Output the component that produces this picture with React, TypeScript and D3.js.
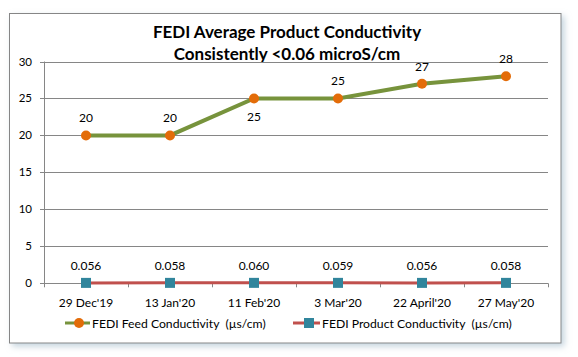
import React from "react";
import * as d3 from "d3";

const categories = ["29 Dec'19", "13 Jan'20", "11 Feb'20", "3 Mar'20", "22 April'20", "27 May'20"];
const feedValues = [20, 20, 25, 25, 27, 28];
const productValues = [0.056, 0.058, 0.06, 0.059, 0.056, 0.058];
const productLabels = ["0.056", "0.058", "0.060", "0.059", "0.056", "0.058"];
const feedLabelBelow = [false, false, true, false, false, false];
const yTicks = [0, 5, 10, 15, 20, 25, 30];
const titleLines = ["FEDI Average Product Conductivity", "Consistently <0.06 microS/cm"];
const legendNames = ["FEDI Feed Conductivity  (µs/cm)", "FEDI Product Conductivity  (µs/cm)"];

const FONT = "Lato, 'Open Sans', sans-serif";
const GRID = "#868686";
const FEED_LINE = "#77933C";
const FEED_MARK = "#E36C09";
const PROD_LINE = "#C0504D";
const PROD_MARK = "#31859C";

export default function App() {
  const W = 578, H = 357;
  const left = 44, right = 548, top = 61.5, bottom = 283.3;
  const x = d3.scaleBand<string>().domain(categories).range([left, right]);
  const y = d3.scaleLinear().domain([0, 30]).range([bottom, top]);
  const cx = (c: string) => (x(c) as number) + x.bandwidth() / 2;
  const line = d3.line<number>().x((_, i) => cx(categories[i])).y((v) => y(v));

  return (
    <svg width={W} height={H} style={{ position: "absolute", left: 0, top: 0, fontFamily: FONT }}>
      <defs>
        <filter id="sh" x="-5%" y="-5%" width="115%" height="115%">
          <feGaussianBlur in="SourceAlpha" stdDeviation="3" />
          <feOffset dx="3" dy="3" result="b" />
          <feFlood floodColor="#9fb8c8" floodOpacity="0.6" />
          <feComposite in2="b" operator="in" />
          <feMerge>
            <feMergeNode />
            <feMergeNode in="SourceGraphic" />
          </feMerge>
        </filter>
      </defs>
      <rect x={0} y={0} width={W} height={H} fill="#fff" />
      <rect x={9.5} y={13.5} width={551.5} height={329.5} fill="#fff" stroke={GRID} strokeWidth={1} filter="url(#sh)" />
      {titleLines.map((t, i) => (
        <text key={t} x={287} y={38 + i * 22} textAnchor="middle" fontSize={17} fontWeight="bold" fill="#000">
          {t}
        </text>
      ))}
      {yTicks.map((t) => (
        <g key={t}>
          <line x1={left - 4} x2={right} y1={Math.round(y(t)) + 0.5} y2={Math.round(y(t)) + 0.5} stroke={GRID} />
          <text x={32} y={y(t) + 4} textAnchor="end" fontSize={11.5} fill="#000">
            {t}
          </text>
        </g>
      ))}
      <line x1={left + 0.5} x2={left + 0.5} y1={top} y2={bottom + 4} stroke={GRID} />
      {categories.map((c, i) => (
        <g key={c}>
          <line x1={(x(c) as number) + x.bandwidth() + 0.5} x2={(x(c) as number) + x.bandwidth() + 0.5} y1={bottom} y2={bottom + 4} stroke={GRID} />
          <text x={cx(c)} y={307} textAnchor="middle" fontSize={12} fill="#000">
            {c}
          </text>
        </g>
      ))}
      <path d={line(productValues) || ""} fill="none" stroke={PROD_LINE} strokeWidth={3} />
      <path d={line(feedValues) || ""} fill="none" stroke={FEED_LINE} strokeWidth={4} />
      {productValues.map((v, i) => (
        <g key={"p" + i}>
          <rect x={cx(categories[i]) - 5} y={y(v) - 5} width={10} height={10} fill={PROD_MARK} />
          <text x={cx(categories[i])} y={270} textAnchor="middle" fontSize={12} fill="#000">
            {productLabels[i]}
          </text>
        </g>
      ))}
      {feedValues.map((v, i) => (
        <g key={"f" + i}>
          <circle cx={cx(categories[i])} cy={y(v)} r={5} fill={FEED_MARK} />
          <text x={cx(categories[i])} y={feedLabelBelow[i] ? y(v) + 23 : y(v) - 13} textAnchor="middle" fontSize={12} fill="#000">
            {v}
          </text>
        </g>
      ))}
      <g>
        <line x1={65} x2={90} y1={323} y2={323} stroke={FEED_LINE} strokeWidth={3} />
        <circle cx={79} cy={323} r={5} fill={FEED_MARK} />
        <text x={92} y={327.5} fontSize={12.2} fill="#000" style={{ whiteSpace: "pre" }}>
          {legendNames[0]}
        </text>
        <line x1={293} x2={320} y1={323} y2={323} stroke={PROD_LINE} strokeWidth={3} />
        <rect x={304} y={318} width={10} height={10} fill={PROD_MARK} />
        <text x={322} y={327.5} fontSize={12.2} fill="#000" style={{ whiteSpace: "pre" }}>
          {legendNames[1]}
        </text>
      </g>
    </svg>
  );
}
